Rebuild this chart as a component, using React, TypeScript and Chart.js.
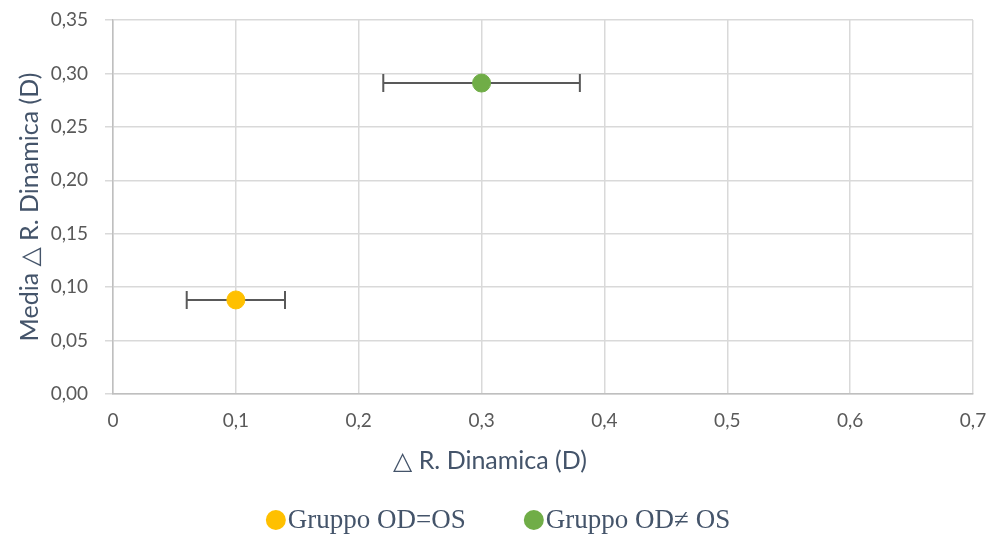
import React, { useEffect, useRef } from "react";
import { Chart, registerables } from "chart.js";

Chart.register(...registerables);

const seriesLabels = ["Gruppo OD=OS", "Gruppo OD≠ OS"];
const seriesColors = ["#FFC000", "#70AD47"];
const xValues = [0.1, 0.3];
const yValues = [0.088, 0.291];
const xErrors = [0.04, 0.08];

const xMin = 0;
const xMax = 0.7;
const xStep = 0.1;
const yMin = 0;
const yMax = 0.35;
const yStep = 0.05;

const xTitle = "△ R. Dinamica (D)";
const yTitle = "Media △ R. Dinamica (D)";

const errorBarPlugin = {
  id: "errorBars",
  beforeDatasetsDraw(chart: any) {
    const ctx = chart.ctx;
    const xs = chart.scales.x;
    const ys = chart.scales.y;
    ctx.save();
    ctx.strokeStyle = "#595959";
    ctx.lineWidth = 2;
    xValues.forEach((xv, i) => {
      const y = ys.getPixelForValue(yValues[i]);
      const x1 = xs.getPixelForValue(xv - xErrors[i]);
      const x2 = xs.getPixelForValue(xv + xErrors[i]);
      ctx.beginPath();
      ctx.moveTo(x1, y);
      ctx.lineTo(x2, y);
      ctx.moveTo(x1, y - 9);
      ctx.lineTo(x1, y + 9);
      ctx.moveTo(x2, y - 9);
      ctx.lineTo(x2, y + 9);
      ctx.stroke();
    });
    ctx.restore();
  },
};

const xTitlePlugin = {
  id: "xTitle",
  afterDraw(chart: any) {
    const ctx = chart.ctx;
    const xs = chart.scales.x;
    ctx.save();
    ctx.font = "25px Lato, 'DejaVu Sans', sans-serif";
    ctx.fillStyle = "#44546A";
    ctx.textAlign = "center";
    ctx.textBaseline = "middle";
    ctx.fillText(xTitle, chart.width / 2 - 4, xs.top + 67);
    ctx.restore();
  },
};

const legendPlugin = {
  id: "customLegend",
  afterDraw(chart: any) {
    const ctx = chart.ctx;
    const datasets = chart.data.datasets;
    const r = 10;
    const gapText = 2;
    const gapItems = 58;
    const yc = 520;
    ctx.save();
    ctx.font = "27px 'Liberation Serif', 'DejaVu Serif', serif";
    ctx.textBaseline = "middle";
    ctx.textAlign = "left";
    const widths = datasets.map((d: any) => 2 * r + gapText + ctx.measureText(d.label).width);
    const total = widths.reduce((a: number, b: number) => a + b, 0) + gapItems * (datasets.length - 1);
    let x = (chart.width - total) / 2 + 4;
    datasets.forEach((d: any, i: number) => {
      ctx.fillStyle = d.backgroundColor;
      ctx.beginPath();
      ctx.arc(x + r, yc, r, 0, Math.PI * 2);
      ctx.fill();
      ctx.fillStyle = "#44546A";
      ctx.fillText(d.label, x + 2 * r + gapText, yc + 1);
      x += widths[i] + gapItems;
    });
    ctx.restore();
  },
};

export default function App() {
  const ref = useRef<HTMLCanvasElement>(null);
  useEffect(() => {
    document.body.style.margin = "0";
    const canvas = ref.current!;
    const chart = new Chart(canvas, {
      type: "scatter",
      data: {
        datasets: seriesLabels.map((label, i) => ({
          label,
          data: [{ x: xValues[i], y: yValues[i] }],
          backgroundColor: seriesColors[i],
          borderColor: seriesColors[i],
          pointRadius: 9,
          pointHoverRadius: 9,
          pointStyle: "circle",
        })),
      },
      options: {
        animation: false,
        responsive: false,
        maintainAspectRatio: false,
        layout: { padding: { top: 20, right: 15, left: 0, bottom: 60 } },
        plugins: {
          tooltip: { enabled: false },
          legend: { display: false },
        },
        scales: {
          x: {
            type: "linear",
            min: xMin,
            max: xMax,
            afterBuildTicks(scale: any) {
              const t = [];
              for (let v = xMin; v <= xMax + 1e-9; v += xStep) t.push({ value: Math.round(v * 10) / 10 });
              scale.ticks = t;
            },
            afterFit(scale: any) {
              scale.height = 82;
            },
            grid: { color: "#D9D9D9", lineWidth: 1.5, drawTicks: true, tickLength: 15, tickColor: "rgba(0,0,0,0)" },
            border: { color: "#BFBFBF", width: 1.5 },
            ticks: {
              padding: 0,
              color: "#595959",
              font: { family: "Lato, 'DejaVu Sans'", size: 19 },
              callback: (v: any) => (Number(v) === 0 ? "0" : Number(v).toFixed(1).replace(".", ",")),
            },
            title: { display: false },
          },
          y: {
            type: "linear",
            min: yMin,
            max: yMax,
            afterBuildTicks(scale: any) {
              const t = [];
              for (let v = yMin; v <= yMax + 1e-9; v += yStep) t.push({ value: Math.round(v * 100) / 100 });
              scale.ticks = t;
            },
            afterFit(scale: any) {
              scale.width = 113;
            },
            grid: { color: "#D9D9D9", lineWidth: 1.5, drawTicks: true, tickLength: 8 },
            border: { color: "#BFBFBF", width: 1.5 },
            ticks: {
              padding: 17,
              color: "#595959",
              font: { family: "Lato, 'DejaVu Sans'", size: 19, lineHeight: 0.2 },
              callback: (v: any) => Number(v).toFixed(2).replace(".", ","),
            },
            title: {
              display: true,
              text: yTitle,
              color: "#44546A",
              font: { family: "Lato, 'DejaVu Sans'", size: 25 },
              padding: { top: 15, bottom: 0 },
            },
          },
        },
      },
      plugins: [errorBarPlugin, xTitlePlugin, legendPlugin],
    } as any);
    return () => chart.destroy();
  }, []);
  return (
    <div style={{ width: 988, height: 536 }}>
      <canvas ref={ref} width={988} height={536} style={{ width: 988, height: 536, display: "block" }} />
    </div>
  );
}
